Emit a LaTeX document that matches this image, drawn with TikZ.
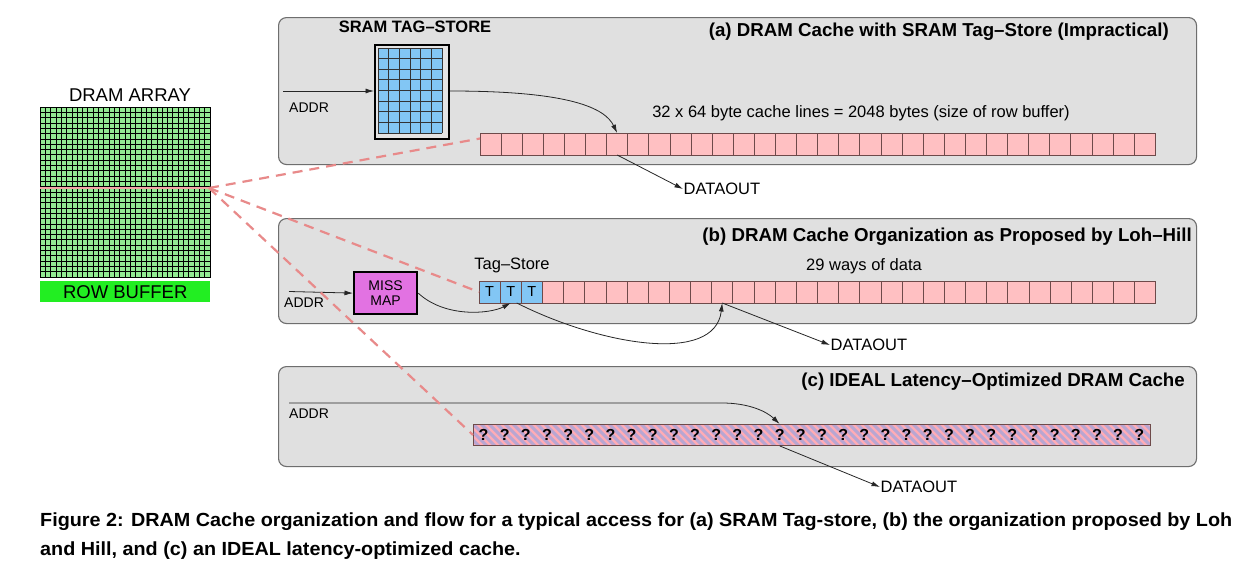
\documentclass[tikz,border=0pt]{standalone}
\usepackage{fontspec}
\setmainfont{Liberation Sans}
\usetikzlibrary{arrows.meta,calc}
\definecolor{panelgray}{HTML}{E0E0E0}
\definecolor{panelline}{HTML}{6E6E6E}
\definecolor{cellpink}{HTML}{FFC0C2}
\definecolor{celledge}{HTML}{6E4A4A}
\definecolor{tagblue}{HTML}{82C6F4}
\definecolor{tsgray}{HTML}{E4E4E4}
\definecolor{missmag}{HTML}{E272E2}
\definecolor{gridgreen}{HTML}{92EA92}
\definecolor{rowgreen}{HTML}{22EE22}
\definecolor{dashpink}{HTML}{E88A8A}
\definecolor{rowpink}{HTML}{F2A6A6}
\definecolor{hatchpink}{HTML}{FFACB6}
\definecolor{hatchline}{HTML}{B8A6D2}
\newsavebox\capboxA
\newlength\capwd
\newcommand\capfont{\bfseries\fontsize{19}{22}\selectfont}
\begin{document}
\sbox\capboxA{\capfont Figure 2: DRAM Cache organization and flow for a typical access for (a) SRAM Tag-store, (b) the organization proposed by Loh}%
\setlength\capwd{\wd\capboxA}%
\pgfmathsetmacro\capsx{1192/\capwd}%
\begin{tikzpicture}[x=1pt,y=-1pt,
 panel/.style={draw=panelline, fill=panelgray, line width=1.1pt, rounded corners=8pt, minimum width=918pt, inner sep=0, anchor=north west},
 cell/.style={draw=celledge, fill=cellpink, line width=0.7pt, minimum width=21.15pt, minimum height=22pt, inner sep=0, outer sep=0, anchor=north west},
 tagcell/.style={cell, fill=tagblue, font=\fontsize{14.5}{16}\selectfont},
 flow/.style={draw=black!85, line width=0.8pt, -{Latex[length=8.5pt,width=5pt]}},
 rowlink/.style={draw=dashpink, line width=2.2pt, dash pattern=on 10pt off 7pt},
 txt/.style={inner sep=0, font=\fontsize{16.5}{18}\selectfont},
 bigtxt/.style={inner sep=0, font=\fontsize{18.5}{20}\selectfont},
 addr/.style={inner sep=0, anchor=west, font=\fontsize{14}{16}\selectfont},
 dout/.style={inner sep=0.5pt, anchor=west, font=\fontsize{16.5}{18}\selectfont},
 ttl/.style={inner sep=0, anchor=east, font=\bfseries\fontsize{18.7}{20}\selectfont},
 qm/.style={inner sep=0, font=\bfseries\fontsize{16}{18}\selectfont},
 gridln/.style={line width=0.7pt, draw=black},
]
\useasboundingbox (0,0) rectangle (1241,573);
\fill[white] (0,0) rectangle (1241,573);

% panels
\node[panel, minimum height=147pt] (pa) at (278,17) {};
\node[panel, minimum height=105pt] (pb) at (278,218) {};
\node[panel, minimum height=100pt] (pc) at (278,366) {};

% DRAM array
\node[bigtxt] (dal) at (130,95) {DRAM ARRAY};
\node[draw=black, fill=gridgreen, line width=0.9pt, minimum width=170pt, minimum height=170pt, inner sep=0, anchor=north west] (da) at (40,107) {};
\foreach \k in {1,...,31} {
  \draw[gridln] ({40+\k*170/32},107) -- ++(0,170);
  \draw[gridln] (40,{107+\k*170/32}) -- ++(170,0);
}
\draw[line width=2.5pt, rowpink] (40,188) -- (210,188);
\coordinate (rowend) at (209,188);
\node[fill=rowgreen, minimum width=170pt, minimum height=21pt, inner sep=0, anchor=north west, bigtxt] (rb) at (40,281) {ROW BUFFER};

% ---------- panel (a)
\node[ttl] (tta) at (1169,32) {(a) DRAM Cache with SRAM Tag–Store (Impractical)};
\node[inner sep=0, font=\bfseries\fontsize{16.5}{18}\selectfont] (tsl) at (415,27) {SRAM TAG–STORE};
\node[draw=black, line width=2.2pt, fill=tsgray, minimum width=74pt, minimum height=94pt, inner sep=0, anchor=north west] (ts) at (374,44) {};
\fill[tagblue] (378,48) rectangle (442,133);
\foreach \i in {0,...,6} \draw[line width=0.8pt, black!80] ({378+\i*64/6},48) -- ++(0,85);
\foreach \j in {0,...,8} \draw[line width=0.8pt, black!80] (378,{48+\j*85/8}) -- ++(64,0);
\coordinate (ina) at (283,91);
\node[addr] (addra) at (289,108) {ADDR};
\draw[flow] (ina) -- (ts.west |- ina);
\foreach \i in {0,...,31} \node[cell] (ca\i) at ({480+\i*21.1},133) {};
\node[txt] (szl) at (861,113) {32 x 64 byte cache lines = 2048 bytes (size of row buffer)};
\draw[flow] (ts.east |- ina) .. controls (570,91) and (605,108) .. (ca6.north);
\node[dout] (doa) at (683,189) {DATAOUT};
\draw[flow] (ca6.south) -- (doa.west);

% ---------- panel (b)
\node[ttl] (ttb) at (1192,237) {(b) DRAM Cache Organization as Proposed by Loh–Hill};
\node[draw=black, line width=2.2pt, fill=missmag, minimum width=63pt, minimum height=42pt, inner sep=0, anchor=north west, align=center, font=\fontsize{14}{15}\selectfont] (mm) at (353,271) {MISS\\MAP};
\coordinate (inb) at (289,291.5);
\node[addr] (addrb) at (284,303) {ADDR};
\draw[flow] (inb) -- (mm.west);
\foreach \i in {0,1,2} \node[tagcell] (t\i) at ({479+\i*21.15},281) {T};
\foreach \i in {3,...,31} \node[cell] (cb\i) at ({479+\i*21.15},281) {};
\node[txt] (tgl) at (512,265) {Tag–Store};
\node[txt] (wl) at (864,266) {29 ways of data};
\draw[flow] (mm.east) .. controls (445,318) and (490,314) .. (t1.south);
\draw[flow] ($(t1.south)+(6,0)$) .. controls (600,345) and (715,365) .. (cb11.south);
\node[dout] (dob) at (830,345) {DATAOUT};
\draw[flow] (cb11.south) -- (dob.west);

% ---------- panel (c)
\node[ttl] (ttc) at (1185,382) {(c) IDEAL Latency–Optimized DRAM Cache};
\node[draw=celledge, fill=hatchpink, line width=0.9pt, minimum width=677pt, minimum height=21pt, inner sep=0, anchor=north west] (rc) at (473,424) {};
\begin{scope}
  \clip (473,424) rectangle (1150,445);
  \foreach \x in {445,453,...,1157} \draw[hatchline, line width=3pt] (\x,420) -- ++(29,29);
\end{scope}
\draw[celledge, line width=0.9pt] (rc.north west) rectangle (rc.south east);
\foreach \i in {0,...,31} \node[qm] (q\i) at ({473+(\i+0.5)*21.15},434.5) {?};
\coordinate (inc) at (289,403);
\node[addr] (addrc) at (289,414) {ADDR};
\draw[flow] (inc) -- (722,403) .. controls (748,403) and (766,411) .. (q14 |- rc.north);
\node[dout] (doc) at (880,487) {DATAOUT};
\draw[flow] (q14 |- rc.south) -- (doc.west);

% dashed links from the DRAM row
\draw[rowlink] (rowend) -- ($(ca0.north west)!0.25!(ca0.south west)$);
\draw[rowlink] (rowend) -- (t0.west);
\draw[rowlink] (rowend) -- (rc.west);

% caption
\node[anchor=base west, inner sep=0] (cap1) at (40,526) {\scalebox{\capsx}[1]{\usebox\capboxA}};
\node[anchor=base west, inner sep=0] (cap2) at (40,555) {\scalebox{\capsx}[1]{\capfont and Hill, and (c) an IDEAL latency-optimized cache.}};
\end{tikzpicture}
\end{document}
